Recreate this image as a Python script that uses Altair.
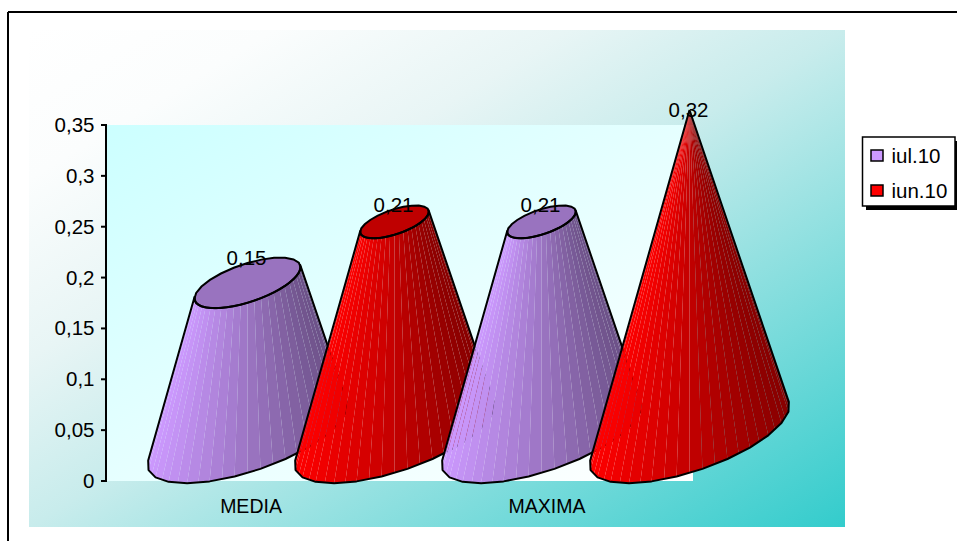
import math
import altair as alt
import pandas as pd

# Chart content
categories = ["MEDIA", "MAXIMA"]
series = ["iul.10", "iun.10"]
iul_values = [0.15, 0.21]
iun_values = [0.21, 0.32]
value_labels = {"iul.10": ["0,15", "0,21"], "iun.10": ["0,21", "0,32"]}
tick_values = [0, 0.05, 0.1, 0.15, 0.2, 0.25, 0.3, 0.35]
tick_labels = ["0", "0,05", "0,1", "0,15", "0,2", "0,25", "0,3", "0,35"]
base_rgb = {"iul.10": (204, 153, 255), "iun.10": (255, 0, 0)}

FONT = "Liberation Sans"
W, H = 957, 541

# The y scale runs in axis units over the full canvas; x runs in canvas units.
PER_UNIT = 356 / 0.35
y_scale = alt.Scale(domain=[(481 - H) / PER_UNIT, 481 / PER_UNIT], range=[H, 0], nice=False, zero=False)
x_scale = alt.Scale(domain=[0, W], range=[0, W], nice=False, zero=False)
X = lambda f: alt.X(f, type="quantitative", scale=x_scale, axis=None)
Y = lambda f: alt.Y(f, type="quantitative", scale=y_scale, axis=None)


def vy(px):
    """Axis value sitting at a given distance from the top of the canvas."""
    return (481 - px) / PER_UNIT


def rect(x0, x1, top, bottom, **mark):
    d = pd.DataFrame({"x": [x0], "x2": [x1], "y": [vy(top)], "y2": [vy(bottom)]})
    return alt.Chart(d).mark_rect(**mark).encode(X("x"), x2="x2", y=Y("y"), y2="y2")


# Cone geometry: a tilted base ellipse, shrunk linearly towards the apex.
MAX_VALUE = 0.32
FLOOR = vy(435.5)
AX, BX, CX = 100.0, -29.5, 37.5
CONE_X = {("iul.10", 0): 247.5, ("iun.10", 0): 394.5, ("iul.10", 1): 541.5, ("iun.10", 1): 689.5}
SEGMENTS = 24      # outline segments round the full ellipse
SHADES = 2         # shaded facets per outline segment


def ellipse_point(theta):
    return AX * math.cos(theta), -(BX * math.cos(theta) + CX * math.sin(theta)) / PER_UNIT


def ring(cx, level, scale, thetas):
    pts = []
    for t in thetas:
        dx, dy = ellipse_point(t)
        pts.append((cx + dx * scale, level + dy * scale))
    return pts


def front_thetas():
    # Visible arc, bounded by the tangents from the apex to the base ellipse.
    height = MAX_VALUE * PER_UNIT
    s = CX / height
    start = math.pi + math.asin(s)
    end = -math.asin(s)
    step = 2 * math.pi / SEGMENTS
    n = max(1, round((start - end) / step))
    return [start + (end - start) * i / n for i in range(n + 1)]


def subdivide(points):
    out = []
    for (x0, y0), (x1, y1) in zip(points, points[1:]):
        for k in range(SHADES):
            f = k / SHADES
            out.append((x0 + (x1 - x0) * f, y0 + (y1 - y0) * f))
    out.append(points[-1])
    return out


def shade(rgb, u):
    f = 1 - 0.47 * u
    return "#%02x%02x%02x" % tuple(round(c * f) for c in rgb)


def cone_layers(cx, value, rgb):
    t = value / MAX_VALUE
    top_scale = max(1 - t, 0)
    top_level = FLOOR + value
    coarse = front_thetas()
    base = ring(cx, FLOOR, 1, coarse)
    top = ring(cx, top_level, top_scale, coarse)
    fine_base = subdivide(base)
    fine_top = subdivide(top)

    rows = []
    for i in range(len(fine_base) - 1):
        mid_x = (fine_base[i][0] + fine_base[i + 1][0]) / 2
        color = shade(rgb, (mid_x - cx + AX) / (2 * AX))
        quad = [fine_top[i], fine_top[i + 1], fine_base[i + 1], fine_base[i]]
        for j, (px, py) in enumerate(quad):
            rows.append({"facet": i, "order": j, "x": px, "y": py, "fill": color})
    body = alt.Chart(pd.DataFrame(rows)).mark_line(filled=True, interpolate="linear", strokeWidth=0).encode(
        X("x"), Y("y"),
        order=alt.Order("order:Q"),
        detail="facet:N",
        color=alt.Color("fill:N", scale=None, legend=None),
    )

    layers = [body]

    outline_pts = [top[0]] + base + top[::-1][:-1] + [top[0]]
    if top_scale > 0:
        back = [2 * math.pi * k / SEGMENTS for k in range(SEGMENTS + 1)]
        cap = ring(cx, top_level, top_scale, back)
        cap_df = pd.DataFrame([{"order": i, "x": p[0], "y": p[1]} for i, p in enumerate(cap)])
        cap_fill = "#%02x%02x%02x" % tuple(round(c * 0.75) for c in rgb)
        layers.append(
            alt.Chart(cap_df).mark_line(filled=True, color=cap_fill, interpolate="linear").encode(
                X("x"), Y("y"), order=alt.Order("order:Q"))
        )
        layers.append(
            alt.Chart(cap_df).mark_line(color="black", strokeWidth=2, interpolate="linear").encode(
                X("x"), Y("y"), order=alt.Order("order:Q"))
        )
    outline_df = pd.DataFrame([{"order": i, "x": p[0], "y": p[1]} for i, p in enumerate(outline_pts)])
    layers.append(
        alt.Chart(outline_df).mark_line(color="black", strokeWidth=2, interpolate="linear", strokeJoin="round").encode(
            X("x"), Y("y"), order=alt.Order("order:Q"))
    )
    return layers


def text_layer(rows, **mark):
    return alt.Chart(pd.DataFrame(rows)).mark_text(font=FONT, color="black", dy=1, **mark).encode(
        X("x"), Y("y"), text="label:N")


layers = []

# Outer frame: only the top and left edges show on the canvas
frame_top = pd.DataFrame({"x": [8], "x2": [W], "y": [vy(12)]})
frame_left = pd.DataFrame({"x": [8], "y": [vy(12)], "y2": [vy(H)]})
layers.append(alt.Chart(frame_top).mark_rule(color="black", strokeWidth=2).encode(X("x"), x2="x2", y=Y("y")))
layers.append(alt.Chart(frame_left).mark_rule(color="black", strokeWidth=2).encode(X("x"), y=Y("y"), y2="y2"))

# Backgrounds
layers.append(rect(29, 845, 30, 527, color=alt.LinearGradient(
    gradient="linear", x1=0, y1=0, x2=1, y2=1,
    stops=[alt.GradientStop(offset=0, color="#ffffff"),
           alt.GradientStop(offset=0.15, color="#fbfdfd"),
           alt.GradientStop(offset=0.33, color="#e8f5f5"),
           alt.GradientStop(offset=0.5, color="#c8ecec"),
           alt.GradientStop(offset=1, color="#33cccc")])))
layers.append(rect(106, 693, 125, 481, color=alt.LinearGradient(
    gradient="linear", x1=0, y1=0, x2=1, y2=1,
    stops=[alt.GradientStop(offset=0, color="#ccffff"), alt.GradientStop(offset=1, color="#ffffff")])))

# Value axis
axis_df = pd.DataFrame({"x": [106], "y": [0.0], "y2": [0.35]})
layers.append(alt.Chart(axis_df).mark_rule(color="black", strokeWidth=2).encode(X("x"), y=Y("y"), y2="y2"))
tick_df = pd.DataFrame({"x": [101] * len(tick_values), "x2": [107] * len(tick_values), "y": tick_values})
layers.append(alt.Chart(tick_df).mark_rule(color="black", strokeWidth=2).encode(X("x"), x2="x2", y=Y("y")))
layers.append(text_layer(
    [{"x": 94.5, "y": v, "label": l} for v, l in zip(tick_values, tick_labels)],
    align="right", baseline="middle", fontSize=20.5))

# Cones, back to front
for g, cat in enumerate(categories):
    for s, values in zip(series, (iul_values, iun_values)):
        layers.extend(cone_layers(CONE_X[(s, g)], values[g], base_rgb[s]))

# Value labels sit at the upper rim of each section
rim = math.hypot(BX, CX) / PER_UNIT
label_rows = []
for g in range(2):
    for s, values in zip(series, (iul_values, iun_values)):
        v = values[g]
        label_rows.append({
            "x": CONE_X[(s, g)] - 1,
            "y": FLOOR + v + rim * (1 - v / MAX_VALUE),
            "label": value_labels[s][g],
        })
layers.append(text_layer(label_rows, align="center", baseline="middle", fontSize=20.5))

# Category labels
layers.append(text_layer(
    [{"x": 251, "y": vy(506), "label": categories[0]}, {"x": 547, "y": vy(506), "label": categories[1]}],
    align="center", baseline="middle", fontSize=19.5))

# Legend
layers.append(rect(866, W, 141, 210, fill="black"))
layers.append(rect(862.5, 955, 137, 206, fill="white", stroke="black", strokeWidth=1.5))
for s, top in zip(series, (150, 185)):
    layers.append(rect(871, 883, top, top + 11, fill="#%02x%02x%02x" % base_rgb[s], stroke="black", strokeWidth=1.5))
layers.append(text_layer(
    [{"x": 891.5, "y": vy(156), "label": series[0]}, {"x": 891.5, "y": vy(191), "label": series[1]}],
    align="left", baseline="middle", fontSize=20.5))

chart = alt.layer(*layers).properties(
    width=W, height=H, padding=0, background="white",
    autosize=alt.AutoSizeParams(type="none"),
).configure_view(stroke=None)
chart.save("out.html", embed_options={"renderer": "svg", "actions": False})
